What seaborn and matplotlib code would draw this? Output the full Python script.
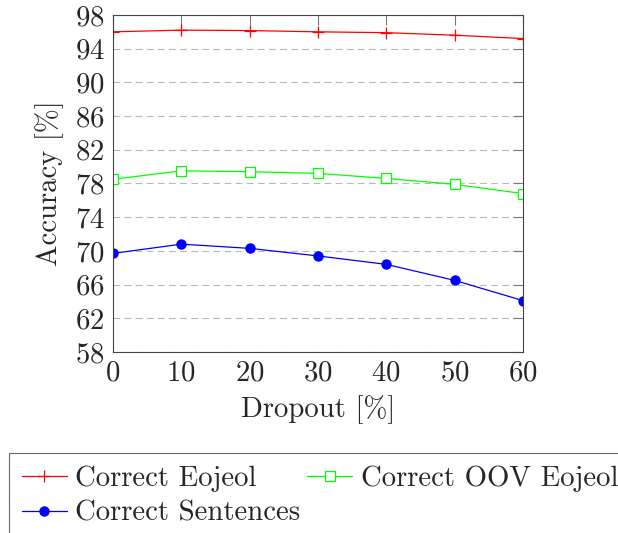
import numpy as np
import pandas as pd
import matplotlib
matplotlib.use('Agg')
import matplotlib.pyplot as plt
import seaborn as sns

# Data
dropout = [0, 10, 20, 30, 40, 50, 60]
eojeol = [96.0, 96.2, 96.15, 96.0, 95.9, 95.6, 95.2]
oov_eojeol = [78.5, 79.5, 79.4, 79.2, 78.6, 77.9, 76.8]
sentences = [69.7, 70.8, 70.3, 69.4, 68.4, 66.5, 64.1]
y_ticks = [58, 62, 66, 70, 74, 78, 82, 86, 90, 94, 98]

sns.set_style('white')
plt.rcParams['font.family'] = ['cmr10', 'DejaVu Serif']
plt.rcParams['axes.formatter.use_mathtext'] = True
plt.rcParams['mathtext.fontset'] = 'cm'
FS = 20.7

fig = plt.figure(figsize=(6.18, 5.33), dpi=100)
ax = fig.add_axes([0.1828, 0.3396, 0.6634, 0.6323])

sns.lineplot(x=dropout, y=eojeol, ax=ax, color='#ff0000', marker='+',
             markersize=8, markeredgecolor='#ff0000', markeredgewidth=0.9,
             linewidth=0.9, label='Correct Eojeol')
sns.lineplot(x=dropout, y=oov_eojeol, ax=ax, color='#00ff00', marker='s',
             markersize=7.5, markerfacecolor='white', markeredgecolor='#00ff00',
             markeredgewidth=0.9, linewidth=0.9, label='Correct OOV Eojeol')
sns.lineplot(x=dropout, y=sentences, ax=ax, color='#0000ff', marker='o',
             markersize=7.5, markeredgewidth=0, linewidth=0.9,
             label='Correct Sentences')

ax.set_xlim(0, 60)
ax.set_ylim(58, 98)
ax.set_xticks(dropout)
ax.set_yticks(y_ticks)
ax.tick_params(direction='in', length=7, width=0.8, color='#777777',
               top=True, right=True, labelsize=FS, pad=6)
ax.yaxis.grid(True, linestyle=(0, (6, 4)), color='#b8b8b8', linewidth=0.8)
ax.xaxis.grid(False)
for s in ax.spines.values():
    s.set_color('#444444')
    s.set_linewidth(0.8)

ax.set_xlabel('Dropout [%]', fontsize=FS, labelpad=6)
ax.set_ylabel('Accuracy [%]', fontsize=FS, labelpad=8)

handles, labels = ax.get_legend_handles_labels()
ax.get_legend().remove()
order = [0, 2, 1]
leg = fig.legend([handles[i] for i in order], [labels[i] for i in order],
                 ncol=2, loc='upper left', bbox_to_anchor=(0.0146, 0.150),
                 fontsize=FS, frameon=True, fancybox=False, borderpad=0.45,
                 handlelength=1.55, handletextpad=0.3, columnspacing=0.25,
                 labelspacing=0.27, borderaxespad=0)
leg.get_frame().set_edgecolor('#444444')
leg.get_frame().set_linewidth(0.8)

fig.savefig('out.png', dpi=100)
